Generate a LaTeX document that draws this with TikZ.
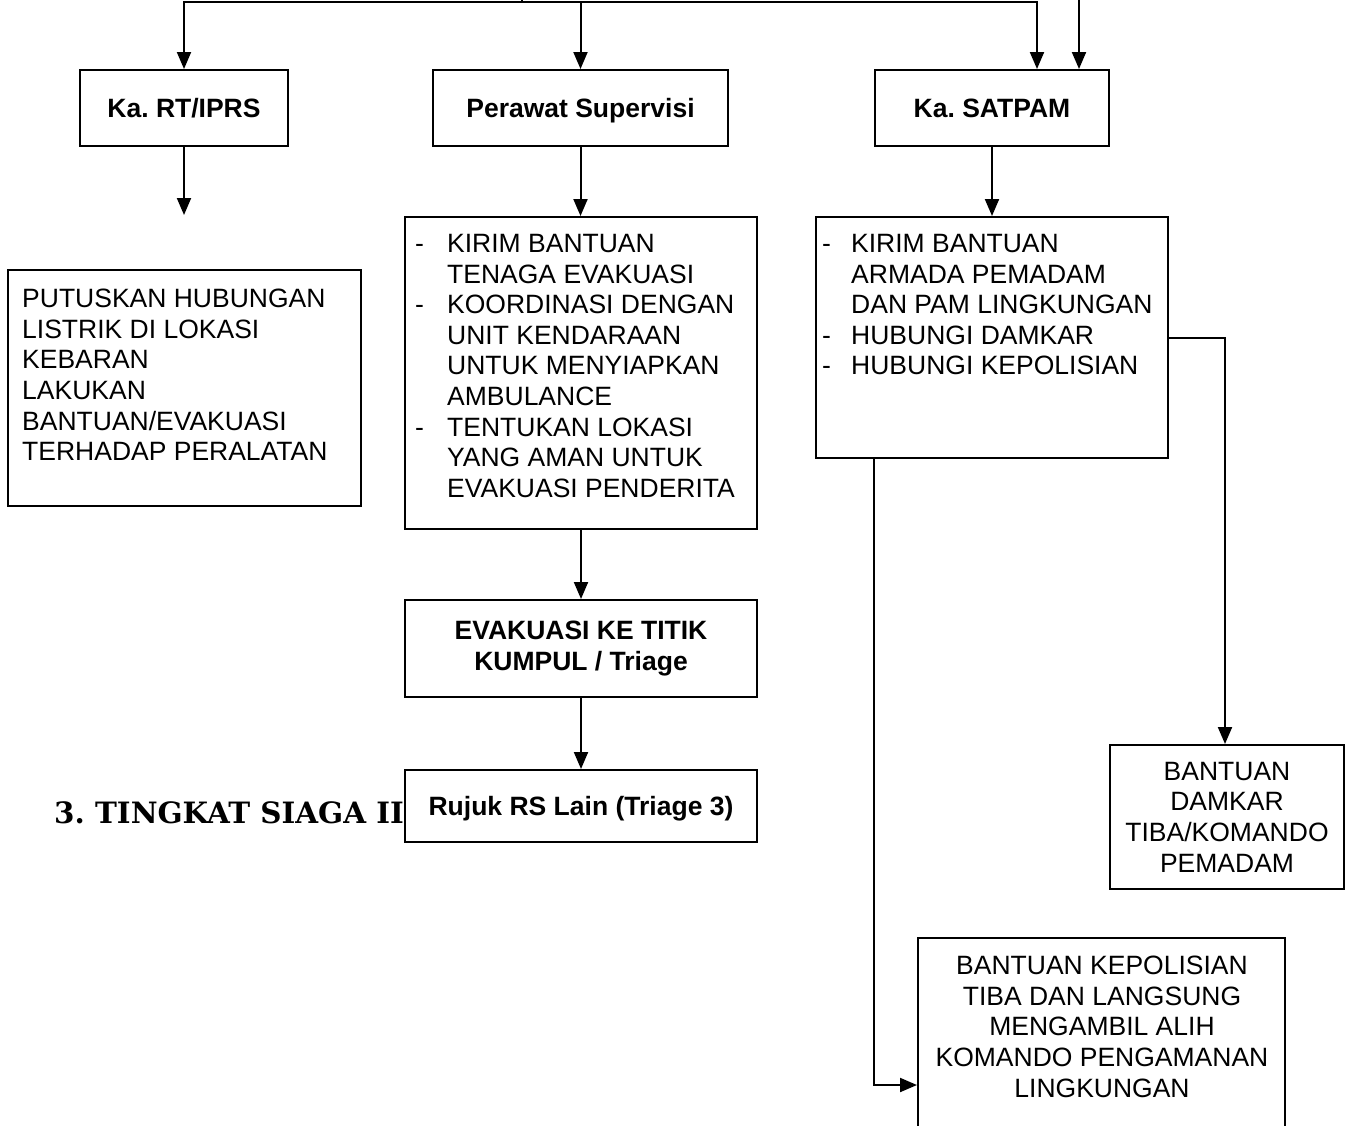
\documentclass[tikz,border=0pt]{standalone}
\usepackage{fontspec}
\setmainfont{Liberation Sans}
\newfontfamily\titlefont{DejaVu Serif}
\usetikzlibrary{arrows.meta,positioning}
\frenchspacing

\tikzset{
  box/.style={draw, line width=2pt, inner sep=0pt},
  txt/.style={inner sep=0pt, font=\fontsize{26.5}{30.6}\selectfont},
  head/.style={box, align=center, font=\fontsize{26.5}{30.6}\selectfont\bfseries},
  onehead/.style={head, text height=19pt, text depth=0pt},
  arr/.style={line width=2pt, -{Triangle[length=17pt,width=14pt]}},
  ln/.style={line width=2pt}
}
\newcommand{\dash}{\makebox[32pt][l]{-}}
\newcommand{\gap}{\hspace*{32pt}}

\begin{document}
\begin{tikzpicture}[x=1pt,y=-1pt]
\useasboundingbox (0,0) rectangle (1349,1125);
% Heads
\node[onehead, minimum width=208pt, minimum height=76pt] (ka) at (184,108) {Ka. RT/IPRS};
\node[onehead, minimum width=295pt, minimum height=76pt] (ps) at (580.5,108) {Perawat Supervisi};
\node[onehead, minimum width=234pt, minimum height=76pt] (sat) at (992,108) {Ka. SATPAM};
% Boxes
\node[box, minimum width=353pt, minimum height=236pt] (put) at (184.5,388) {};
\node[box, minimum width=352pt, minimum height=312pt] (k1) at (581,373) {};
\node[head, minimum width=352pt, minimum height=97pt] (ev) at (581,648.5) {EVAKUASI KE TITIK\\KUMPUL / Triage};
\node[onehead, minimum width=352pt, minimum height=72pt] (rj) at (581,806) {Rujuk RS Lain (Triage 3)};
\node[box, minimum width=352pt, minimum height=241pt] (k2) at (992,337.5) {};
\node[box, minimum width=234pt, minimum height=144pt, txt, align=center] (dam) at (1227,817) {BANTUAN\\DAMKAR\\TIBA/KOMANDO\\PEMADAM};
\node[box, minimum width=367pt, minimum height=294pt] (kep) at (1101.5,1085) {};
% Texts
\node[txt, align=left, anchor=north west] (putx) at (22,289) {PUTUSKAN HUBUNGAN\\LISTRIK DI LOKASI\\KEBARAN\\LAKUKAN\\BANTUAN/EVAKUASI\\TERHADAP PERALATAN};
\node[txt, align=left, anchor=north west] (k1x) at (415,234) {\dash KIRIM BANTUAN\\\gap TENAGA EVAKUASI\\\dash KOORDINASI DENGAN\\\gap UNIT KENDARAAN\\\gap UNTUK MENYIAPKAN\\\gap AMBULANCE\\\dash TENTUKAN LOKASI\\\gap YANG AMAN UNTUK\\\gap EVAKUASI PENDERITA};
\node[txt, align=left, anchor=north west] (k2x) at (822,234) {\makebox[29pt][l]{-}KIRIM BANTUAN\\\hspace*{29pt}ARMADA PEMADAM\\\hspace*{29pt}DAN PAM LINGKUNGAN\\\makebox[29pt][l]{-}HUBUNGI DAMKAR\\\makebox[29pt][l]{-}HUBUNGI KEPOLISIAN};
\node[txt, align=center, anchor=north] (kepx) at (1102,956) {BANTUAN KEPOLISIAN\\TIBA DAN LANGSUNG\\MENGAMBIL ALIH\\KOMANDO PENGAMANAN\\LINGKUNGAN};
\node[inner sep=0pt, anchor=base west, font=\titlefont\fontsize{29.4}{34}\selectfont\bfseries] (lvl) at (54,823) {3. TINGKAT SIAGA II};
% Top connectors
\coordinate (top) at (522,2);
\draw[ln] (522,-10) -- (top);
\draw[arr] (top) -| (ka.north);
\draw[arr] (top) -| (ps.north);
\draw[arr] (top) -| ([xshift=45pt]sat.north);
\draw[arr] ([xshift=87pt]sat.north |- 0,-10) -- ([xshift=87pt]sat.north);
% Downward connectors
\coordinate (kaend) at (184,215);
\draw[arr] (ka.south) -- (kaend);
\draw[arr] (ps.south) -- (ps.south |- k1.north);
\draw[arr] (k1.south) -- (ev.north);
\draw[arr] (ev.south) -- (rj.north);
\draw[arr] (sat.south) -- (k2.north);
\draw[arr] (k2.east) -| ([xshift=-2pt]dam.north);
\draw[arr] ([xshift=59pt]k2.south west) |- (kep.west);
\end{tikzpicture}
\end{document}
